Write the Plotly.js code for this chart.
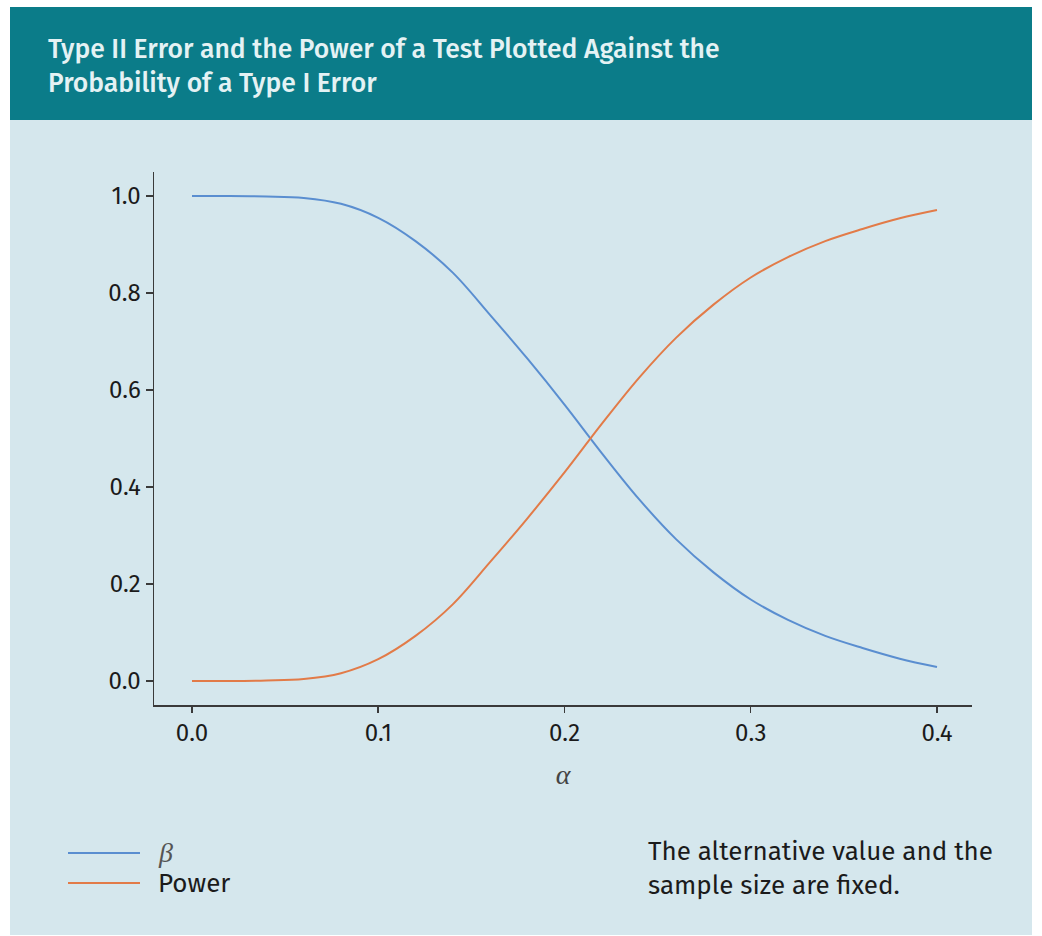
<!DOCTYPE html>
<html>
<head>
<meta charset="utf-8">
<script src="https://cdn.plot.ly/plotly-3.0.1.min.js"></script>
<style>
  html, body { margin: 0; padding: 0; background: #ffffff; }
  #chart { width: 1042px; height: 936px; }
</style>
</head>
<body>
<div id="chart"></div>
<script>
// Significance level (probability of a Type I error)
const alpha = [0.00, 0.02, 0.04, 0.06, 0.08, 0.10, 0.12, 0.14, 0.16, 0.18, 0.20,
               0.22, 0.24, 0.26, 0.28, 0.30, 0.32, 0.34, 0.36, 0.38, 0.40];
// Probability of a Type II error
const beta = [1.000, 1.000, 0.999, 0.996, 0.984, 0.955, 0.907, 0.842, 0.755, 0.665, 0.570,
              0.470, 0.375, 0.292, 0.224, 0.168, 0.126, 0.093, 0.068, 0.046, 0.029];
// Power of the test
const power = [0.000, 0.000, 0.001, 0.004, 0.016, 0.045, 0.093, 0.158, 0.245, 0.335, 0.430,
               0.530, 0.625, 0.708, 0.776, 0.832, 0.874, 0.907, 0.932, 0.954, 0.971];

const xTicks = [0.0, 0.1, 0.2, 0.3, 0.4];
const yTicks = [0.0, 0.2, 0.4, 0.6, 0.8, 1.0];
const seriesNames = ['β', 'Power'];
const titleText = 'Type II Error and the Power of a Test Plotted Against the<br>Probability of a Type I Error';
const noteText = 'The alternative value and the<br>sample size are fixed.';
const xLabel = 'α';

const W = 1042, H = 936;
const M = { l: 154, r: 70, t: 172, b: 231 };
const PW = W - M.l - M.r, PH = H - M.t - M.b;
// pixel position on the page -> paper coordinates
const px = p => (p - M.l) / PW;
const py = p => (H - M.b - p) / PH;

const BLUE = '#5a8ed0';
const ORANGE = '#e27b48';
const PANEL = '#d5e7ed';
const HEADER = '#0b7c89';
const INK = '#1b1b1b';
const SANS = 'Fira Sans, Open Sans, sans-serif';
const SERIF = 'Liberation Serif, DejaVu Serif, serif';

const traces = [
  { x: alpha, y: beta, name: seriesNames[0], mode: 'lines',
    line: { color: BLUE, width: 2, shape: 'spline', smoothing: 1 }, hoverinfo: 'x+y' },
  { x: alpha, y: power, name: seriesNames[1], mode: 'lines',
    line: { color: ORANGE, width: 2, shape: 'spline', smoothing: 1 }, hoverinfo: 'x+y' }
];

const shapes = [
  { type: 'rect', xref: 'paper', yref: 'paper', layer: 'below',
    x0: px(10), x1: px(1032), y0: py(120), y1: py(935),
    fillcolor: PANEL, line: { width: 0 } },
  { type: 'rect', xref: 'paper', yref: 'paper', layer: 'below',
    x0: px(10), x1: px(1032), y0: py(7), y1: py(120),
    fillcolor: HEADER, line: { width: 0 } },
  // legend samples
  { type: 'line', xref: 'paper', yref: 'paper',
    x0: px(68), x1: px(140), y0: py(853), y1: py(853),
    line: { color: BLUE, width: 2 } },
  { type: 'line', xref: 'paper', yref: 'paper',
    x0: px(68), x1: px(140), y0: py(883), y1: py(883),
    line: { color: ORANGE, width: 2 } }
];

const annotations = [
  { xref: 'paper', yref: 'paper', x: px(156), y: py(852), xanchor: 'left', yanchor: 'middle',
    text: '<i>' + seriesNames[0] + '</i>', showarrow: false,
    font: { family: SERIF, size: 28, color: '#555' } },
  { xref: 'paper', yref: 'paper', x: px(156), y: py(883), xanchor: 'left', yanchor: 'middle',
    text: seriesNames[1], showarrow: false,
    font: { family: SANS, size: 26, color: INK } },
  { xref: 'paper', yref: 'paper', x: px(646), y: py(868), xanchor: 'left', yanchor: 'middle',
    text: noteText, align: 'left', showarrow: false,
    font: { family: SANS, size: 26, color: INK } }
];

const layout = {
  width: W, height: H,
  margin: M,
  paper_bgcolor: 'rgba(0,0,0,0)',
  plot_bgcolor: 'rgba(0,0,0,0)',
  showlegend: false,
  title: {
    text: titleText,
    xref: 'container', yref: 'container',
    x: 48 / W, xanchor: 'left',
    y: 1 - 58 / H, yanchor: 'top',
    font: { family: SANS, size: 26.5, color: '#e4f2f4', weight: 500 }
  },
  xaxis: {
    range: [-0.0204, 0.4188],
    tickvals: xTicks, tickformat: '.1f',
    showline: true, linecolor: '#3a3a3a', linewidth: 1.5,
    ticks: 'outside', ticklen: 6, tickwidth: 1.5, tickcolor: '#3a3a3a',
    showgrid: false, zeroline: false,
    tickfont: { family: SANS, size: 24, color: INK },
    title: { text: '<i>' + xLabel + '</i>', standoff: 18,
             font: { family: SERIF, size: 28, color: '#444' } }
  },
  yaxis: {
    range: [-0.0495, 1.0495],
    tickvals: yTicks, tickformat: '.1f',
    showline: true, linecolor: '#3a3a3a', linewidth: 1.5,
    ticks: 'outside', ticklen: 7, tickwidth: 1.5, tickcolor: '#3a3a3a',
    showgrid: false, zeroline: false,
    tickfont: { family: SANS, size: 24, color: INK }
  },
  shapes: shapes,
  annotations: annotations
};

Plotly.newPlot('chart', traces, layout, { displayModeBar: false, staticPlot: true });
</script>
</body>
</html>
